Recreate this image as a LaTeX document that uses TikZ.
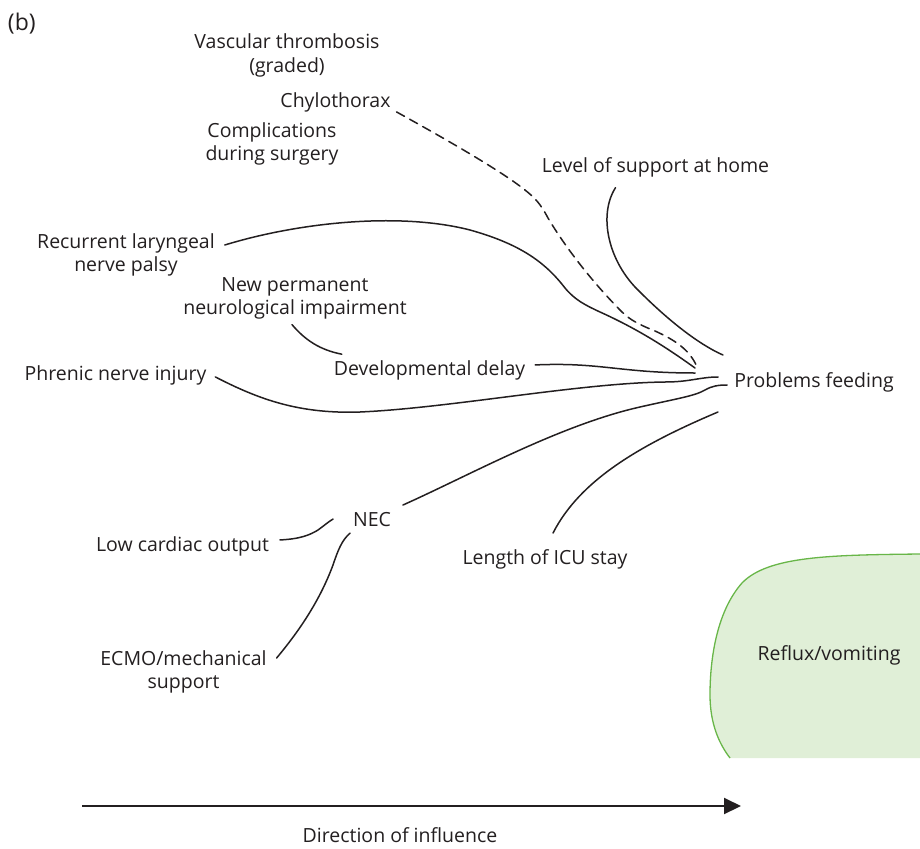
\documentclass[tikz,border=0pt]{standalone}
\usepackage{fontspec}
\setmainfont{Open Sans}
\usetikzlibrary{calc,arrows.meta}
\definecolor{txt}{RGB}{35,31,32}
\definecolor{blobfill}{RGB}{224,239,215}
\definecolor{blobline}{RGB}{104,182,72}
\tikzset{
  lbl/.style={font=\fontsize{19.5}{23.5}\selectfont, inner sep=0pt, outer sep=0pt, align=center, text=txt},
  link/.style={line width=1.5pt, draw=txt, line cap=round},
  dlink/.style={link, dash pattern=on 9pt off 6pt},
}
\begin{document}
\begin{tikzpicture}[x=1pt,y=-1pt]
\useasboundingbox (0,0) rectangle (920,848);
% green blob
\fill[blobfill] (920,554) .. controls (830,555) and (768,556) .. (742,583)
  .. controls (718,610) and (710,655) .. (710,695)
  .. controls (710,725) and (720,745) .. (730,758) -- (920,758) -- cycle;
\draw[blobline, line width=1.3pt] (920,554) .. controls (830,555) and (768,556) .. (742,583)
  .. controls (718,610) and (710,655) .. (710,695)
  .. controls (710,725) and (720,745) .. (730,758);

% labels
\node[lbl, font=\fontsize{23}{27}\selectfont, anchor=base west] (b) at (8,31) {(b)};
\node[lbl, anchor=north] (vasc) at (287,34) {Vascular thrombosis\\(graded)};
\node[lbl, anchor=base] (chylo) at (335.5,107) {Chylothorax};
\node[lbl, anchor=north] (comp) at (272,122.5) {Complications\\during surgery};
\node[lbl, anchor=base] (level) at (655.5,172) {Level of support at home};
\node[lbl, anchor=north] (rec) at (126,233.5) {Recurrent laryngeal\\nerve palsy};
\node[lbl, anchor=north] (newp) at (295,277.5) {New permanent\\neurological impairment};
\node[lbl, anchor=base] (dev) at (429.5,375) {Developmental delay};
\node[lbl, anchor=base] (phr) at (115.5,380) {Phrenic nerve injury};
\node[lbl, anchor=base] (pf) at (814,387) {Problems feeding};
\node[lbl, anchor=base] (nec) at (372,526) {NEC};
\node[lbl, anchor=base] (lco) at (182.5,551) {Low cardiac output};
\node[lbl, anchor=base] (icu) at (545,564) {Length of ICU stay};
\node[lbl, anchor=north] (ecmo) at (183.5,650.5) {ECMO/mechanical\\support};
\node[lbl, anchor=base] (reflux) at (829,660) {Reflux/vomiting};
\node[lbl, anchor=base] (dir) at (400,842) {Direction of influence};

% free ends near "Problems feeding"
\coordinate (e1) at (697,367);
\coordinate (e2) at (695,368);
\coordinate (e3) at (723,355);
\coordinate (e4) at (695,373);
\coordinate (e5) at (718,377);
\coordinate (e6) at (727,385);
\coordinate (e7) at (718,412);

% dashed: Chylothorax
\draw[dlink] ($(chylo.east)+(6,10)$) .. controls (440,136) and (500,170) .. (525,190)
  .. controls (535,198) and (540,203) .. (548,218)
  .. controls (570,255) and (600,290) .. (622,312)
  .. controls (630,320) and (640,325) .. (655,331)
  .. controls (675,340) and (690,350) .. (e1);

% Recurrent laryngeal nerve palsy
\draw[link] ($(rec.east)+(10,-10)$) .. controls (300,222) and (400,212) .. (470,230)
  .. controls (520,244) and (545,262) .. (565,288)
  .. controls (575,300) and (585,305) .. (600,312)
  .. controls (640,330) and (670,350) .. (e2);

% Level of support at home
\draw[link] ($(level.south)+(-40,11)$) .. controls (598,215) and (608,262) .. (640,292)
  .. controls (670,322) and (700,345) .. (e3);

% Developmental delay
\draw[link] ($(dev.east)+(10,-5)$) .. controls (600,362) and (620,373) .. (e4);

% Phrenic nerve injury
\draw[link] ($(phr.east)+(9,2)$) .. controls (260,400) and (300,414) .. (360,412)
  .. controls (450,408) and (580,383) .. (665,382)
  .. controls (690,382) and (700,377) .. (e5);

% NEC -> Problems feeding
\draw[link] ($(nec.east)+(12,-14)$) .. controls (470,475) and (560,425) .. (640,407)
  .. controls (675,399) and (695,396) .. (705,390)
  .. controls (712,386) and (718,385) .. (e6);

% Length of ICU stay
\draw[link] ($(icu.north)+(8,-16)$) .. controls (580,480) and (640,445) .. (e7);

% New permanent neurological impairment -> Developmental delay
\draw[link] ($(newp.south)+(-3,5)$) .. controls (305,340) and (320,350) .. ($(dev.north west)+(8,-6)$);

% Low cardiac output -> NEC
\draw[link] ($(lco.east)+(11,-6)$) .. controls (300,539) and (310,535) .. (318,530)
  .. controls (325,525) and (328,522) .. ($(nec.west)+(-20,0)$);

% ECMO -> NEC
\draw[link] ($(ecmo.east)+(10,-14)$) .. controls (300,630) and (320,600) .. (333,565)
  .. controls (338,550) and (342,540) .. ($(nec.south)+(-22,7)$);

% direction arrow
\coordinate (arrS) at (82,806);
\coordinate (arrE) at (741,806);
\draw[line width=2pt, txt, -{Triangle[length=17pt,width=16pt]}] (arrS) -- (arrE);
\end{tikzpicture}
\end{document}
